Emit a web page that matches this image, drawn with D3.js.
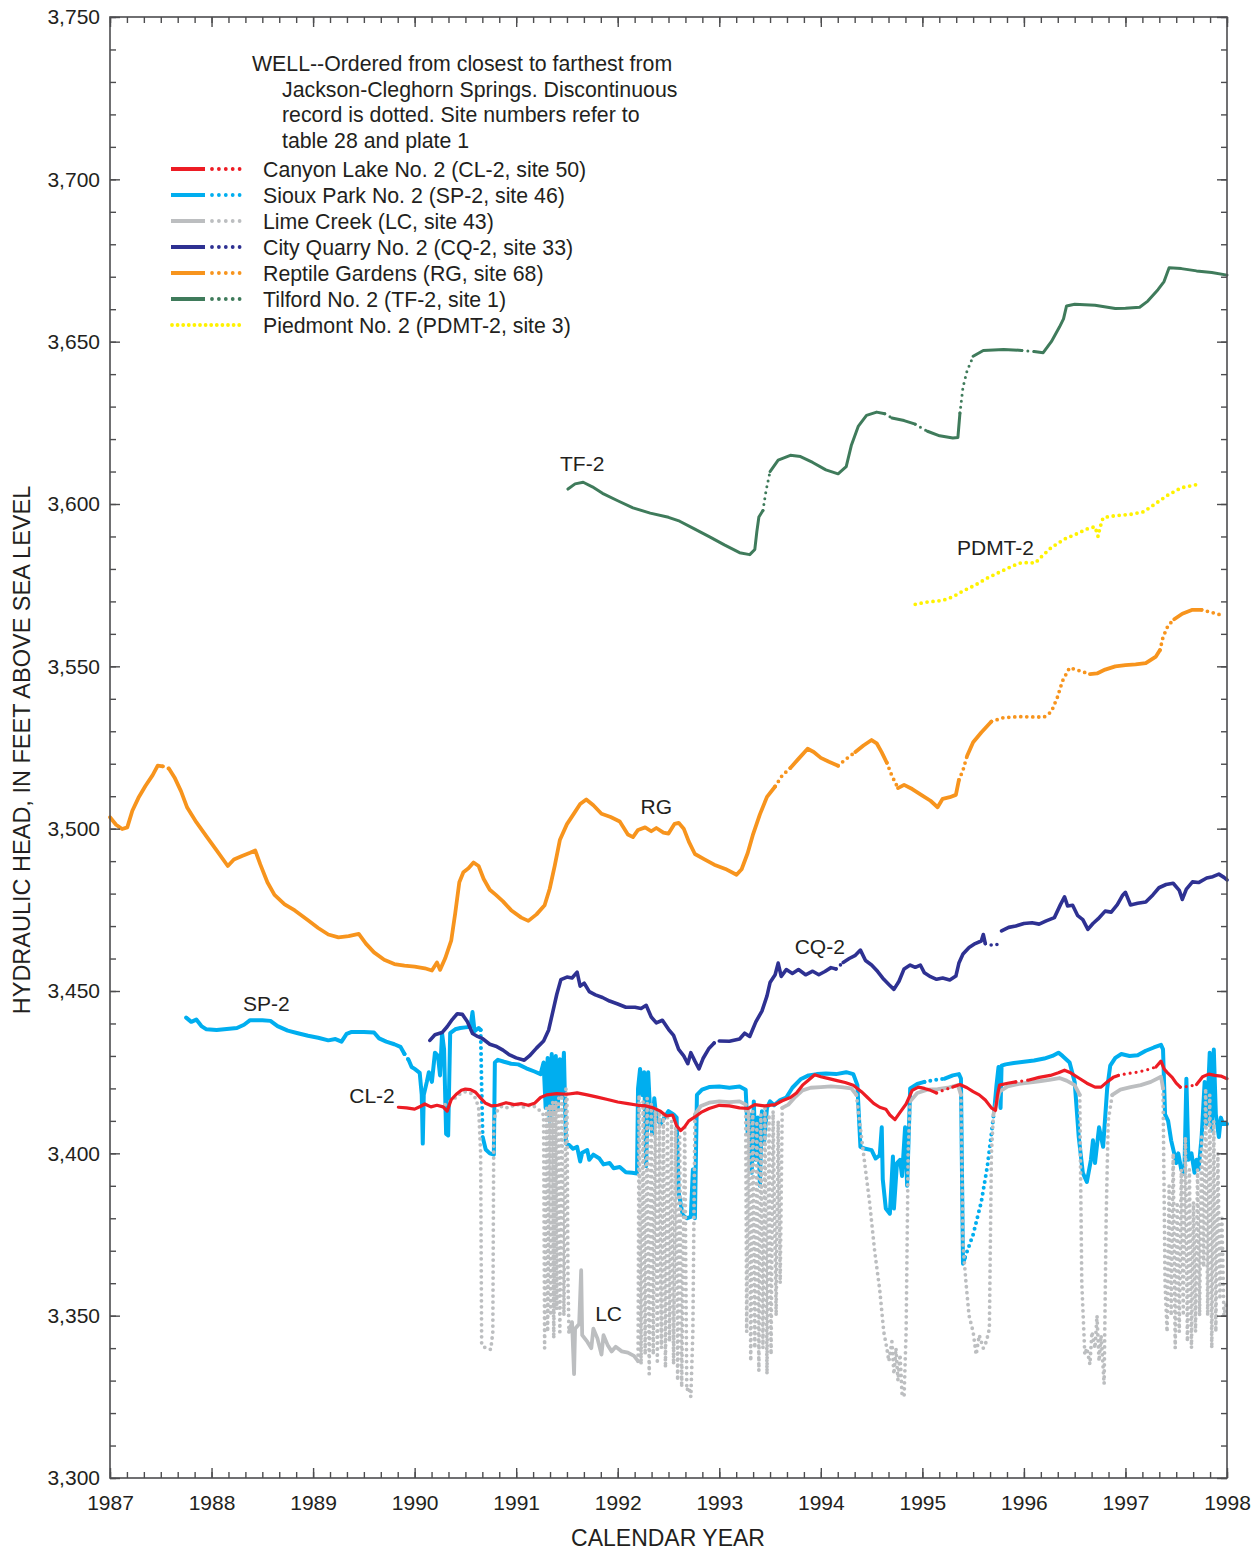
<!DOCTYPE html>
<html>
<head>
<meta charset="utf-8">
<script src="https://cdn.jsdelivr.net/npm/d3@7"></script>
<style>
  body { margin: 0; background: #fff; }
  svg { display: block; }
  text { font-family: "Liberation Sans", Arial, Helvetica, sans-serif; fill: #231f20; }
</style>
</head>
<body>
<svg id="chart" width="1260" height="1552"></svg>
<script>
// ---- Axis values ----
const yearTicks = [1987, 1988, 1989, 1990, 1991, 1992, 1993, 1994, 1995, 1996, 1997, 1998];
const headTicks = [3300, 3350, 3400, 3450, 3500, 3550, 3600, 3650, 3700, 3750];

// ---- Well records: segments of [year, head]; "s" = continuous, "d" = discontinuous (dotted) ----
const tf2 = [
  ["s", [[1991.51,3604.6],[1991.58,3606.2],[1991.66,3606.7],[1991.75,3605.3],[1991.85,3603.3],[1992.0,3601.0],[1992.15,3598.8],[1992.32,3597.2],[1992.5,3595.9],[1992.61,3594.7],[1992.75,3592.4],[1992.91,3589.8],[1993.05,3587.4],[1993.2,3585.0],[1993.3,3584.4],[1993.35,3586.0],[1993.37,3591.5],[1993.39,3596.0],[1993.43,3598.0]]],
  ["d", [[1993.43,3598.0],[1993.46,3604.0],[1993.5,3610.0]]],
  ["s", [[1993.5,3610.0],[1993.58,3613.5],[1993.7,3615.0],[1993.8,3614.6],[1993.92,3612.8],[1994.05,3610.5],[1994.17,3609.3],[1994.25,3611.5],[1994.3,3618.0],[1994.37,3624.0],[1994.45,3627.3],[1994.55,3628.3],[1994.63,3627.8]]],
  ["d", [[1994.63,3627.8],[1994.7,3626.5]]],
  ["s", [[1994.7,3626.5],[1994.82,3625.7],[1994.93,3624.6]]],
  ["d", [[1994.93,3624.6],[1995.05,3622.4]]],
  ["s", [[1995.05,3622.4],[1995.17,3621.0],[1995.3,3620.3],[1995.35,3620.5],[1995.37,3628.0]]],
  ["d", [[1995.37,3628.0],[1995.4,3636.0],[1995.44,3641.0],[1995.5,3645.5]]],
  ["s", [[1995.5,3645.5],[1995.6,3647.3],[1995.8,3647.6],[1995.98,3647.3]]],
  ["d", [[1995.98,3647.3],[1996.1,3647.0]]],
  ["s", [[1996.1,3647.0],[1996.19,3646.6],[1996.27,3650.0],[1996.35,3654.5],[1996.39,3657.0],[1996.42,3661.0],[1996.5,3661.5],[1996.7,3661.2],[1996.9,3660.2],[1997.0,3660.3],[1997.14,3660.6],[1997.22,3662.5],[1997.32,3666.0],[1997.38,3668.5],[1997.43,3672.8],[1997.55,3672.5],[1997.7,3671.8],[1997.85,3671.3],[1998.0,3670.5]]]
];

const pdmt2 = [
  ["d", [[1994.93,3569.1],[1995.05,3569.8],[1995.2,3570.3],[1995.3,3571.4],[1995.4,3573.2],[1995.52,3575.0],[1995.64,3577.2],[1995.76,3579.0],[1995.88,3580.8],[1995.96,3581.8],[1996.05,3582.0],[1996.11,3581.8],[1996.18,3584.0],[1996.27,3586.6],[1996.4,3589.2],[1996.52,3590.8],[1996.62,3592.3],[1996.7,3593.0],[1996.73,3590.0],[1996.75,3592.8],[1996.78,3595.8],[1996.9,3596.4],[1997.05,3596.8],[1997.18,3597.6],[1997.3,3600.2],[1997.42,3602.8],[1997.55,3605.0],[1997.69,3605.9]]]
];

const rg = [
  ["s", [[1987.0,3503.5],[1987.06,3501.2],[1987.12,3499.9],[1987.17,3500.4],[1987.22,3505.5],[1987.28,3509.5],[1987.35,3513.2],[1987.42,3516.5],[1987.47,3519.4],[1987.52,3519.2]]],
  ["d", [[1987.52,3519.2],[1987.58,3518.5]]],
  ["s", [[1987.58,3518.5],[1987.64,3515.5],[1987.7,3511.5],[1987.76,3506.5],[1987.85,3502.0],[1987.95,3497.6],[1988.05,3493.3],[1988.16,3488.5],[1988.22,3490.5],[1988.3,3491.6],[1988.38,3492.6],[1988.43,3493.3],[1988.48,3489.0],[1988.55,3483.5],[1988.62,3479.6],[1988.72,3476.7],[1988.82,3474.8],[1988.95,3471.8],[1989.05,3469.4],[1989.15,3467.4],[1989.25,3466.5],[1989.35,3466.9],[1989.45,3467.6],[1989.52,3464.6],[1989.6,3461.9],[1989.7,3459.6],[1989.8,3458.3],[1989.9,3457.8],[1990.0,3457.5],[1990.1,3457.0],[1990.17,3456.3],[1990.22,3458.8],[1990.25,3456.5],[1990.3,3460.0],[1990.36,3465.5],[1990.4,3474.0],[1990.44,3483.5],[1990.48,3486.6],[1990.53,3487.8],[1990.58,3489.6],[1990.63,3488.5],[1990.68,3484.5],[1990.74,3481.2],[1990.8,3479.6],[1990.87,3477.6],[1990.95,3474.9],[1991.05,3472.6],[1991.12,3471.6],[1991.2,3473.6],[1991.28,3476.4],[1991.33,3481.5],[1991.38,3488.6],[1991.43,3496.5],[1991.5,3501.4],[1991.57,3504.7],[1991.63,3507.6],[1991.69,3509.0],[1991.76,3507.2],[1991.84,3504.6],[1991.93,3503.6],[1992.02,3502.2],[1992.1,3498.2],[1992.15,3497.4],[1992.2,3499.6],[1992.27,3500.4],[1992.33,3499.2],[1992.38,3500.2],[1992.45,3498.8],[1992.5,3498.5],[1992.56,3501.5],[1992.6,3501.8],[1992.65,3500.0],[1992.7,3496.0],[1992.76,3492.2],[1992.85,3490.6],[1992.95,3488.9],[1993.06,3487.6],[1993.17,3485.8],[1993.22,3487.5],[1993.28,3492.5],[1993.33,3498.0],[1993.4,3504.4],[1993.47,3509.8],[1993.55,3513.0]]],
  ["d", [[1993.55,3513.0],[1993.62,3516.4],[1993.7,3518.7]]],
  ["s", [[1993.7,3518.7],[1993.78,3521.5],[1993.87,3524.6],[1993.93,3523.6],[1994.0,3521.8],[1994.08,3520.6],[1994.17,3519.4]]],
  ["d", [[1994.17,3519.4],[1994.25,3521.5],[1994.34,3523.6]]],
  ["s", [[1994.34,3523.6],[1994.42,3525.6],[1994.5,3527.3],[1994.55,3526.3],[1994.6,3523.5],[1994.65,3520.3]]],
  ["d", [[1994.65,3520.3],[1994.7,3516.3],[1994.76,3512.5]]],
  ["s", [[1994.76,3512.5],[1994.82,3513.5],[1994.9,3512.2],[1995.0,3510.2],[1995.08,3508.6],[1995.15,3506.6],[1995.2,3509.2],[1995.27,3509.7],[1995.33,3510.4],[1995.36,3515.0]]],
  ["d", [[1995.36,3515.0],[1995.4,3518.0],[1995.44,3522.4]]],
  ["s", [[1995.44,3522.4],[1995.5,3526.6],[1995.58,3529.6],[1995.68,3533.0]]],
  ["d", [[1995.68,3533.0],[1995.8,3534.2],[1995.95,3534.5],[1996.1,3534.4],[1996.2,3534.4],[1996.27,3536.0],[1996.33,3540.5],[1996.38,3545.5],[1996.45,3549.6],[1996.55,3548.6],[1996.65,3547.6]]],
  ["s", [[1996.65,3547.6],[1996.72,3547.8],[1996.8,3549.0],[1996.9,3550.0],[1997.0,3550.4],[1997.1,3550.6],[1997.2,3551.0],[1997.3,3553.0],[1997.34,3555.0]]],
  ["d", [[1997.34,3555.0],[1997.37,3559.0],[1997.42,3562.6],[1997.48,3564.5]]],
  ["s", [[1997.48,3564.5],[1997.56,3566.2],[1997.66,3567.4],[1997.75,3567.4]]],
  ["d", [[1997.75,3567.4],[1997.85,3566.6],[1997.93,3565.9]]]
];

const cq2 = [
  ["s", [[1990.15,3434.8],[1990.2,3436.5],[1990.27,3437.2],[1990.32,3439.0],[1990.37,3441.2],[1990.42,3443.0],[1990.47,3442.8],[1990.52,3440.5],[1990.57,3436.9],[1990.62,3436.0],[1990.67,3435.3],[1990.74,3433.6],[1990.8,3433.0],[1990.87,3431.8],[1990.93,3430.4],[1991.0,3429.4],[1991.08,3428.7],[1991.13,3430.0],[1991.2,3432.4],[1991.27,3434.6],[1991.32,3438.0],[1991.36,3443.5],[1991.4,3449.0],[1991.44,3453.5],[1991.5,3454.3],[1991.55,3454.0],[1991.6,3455.8],[1991.63,3451.5],[1991.67,3452.4],[1991.72,3449.8],[1991.78,3448.8],[1991.85,3448.0],[1991.92,3446.9],[1992.0,3446.0],[1992.08,3445.0],[1992.17,3445.0],[1992.23,3444.6],[1992.28,3445.6],[1992.33,3442.0],[1992.38,3440.2],[1992.44,3441.0],[1992.5,3438.2],[1992.55,3436.3],[1992.6,3432.0],[1992.65,3430.0],[1992.69,3427.6],[1992.72,3431.0],[1992.76,3428.4],[1992.8,3426.0],[1992.84,3429.2],[1992.9,3432.4],[1992.95,3434.0]]],
  ["d", [[1992.95,3434.0],[1993.0,3434.6]]],
  ["s", [[1993.0,3434.6],[1993.1,3434.5],[1993.2,3435.2],[1993.25,3437.0],[1993.3,3436.0],[1993.36,3440.5],[1993.42,3443.8],[1993.47,3448.5],[1993.5,3452.6],[1993.55,3455.0],[1993.58,3458.6],[1993.61,3454.5],[1993.66,3456.6],[1993.72,3455.4],[1993.78,3456.6],[1993.85,3455.0],[1993.92,3456.1],[1993.98,3455.0],[1994.04,3456.0],[1994.1,3457.2],[1994.15,3456.8]]],
  ["d", [[1994.15,3456.8],[1994.22,3458.8]]],
  ["s", [[1994.22,3458.8],[1994.28,3460.0],[1994.34,3461.0],[1994.39,3462.6],[1994.44,3459.4],[1994.5,3458.0],[1994.56,3456.0],[1994.62,3453.6],[1994.67,3452.0],[1994.72,3450.5],[1994.77,3453.0],[1994.82,3456.8],[1994.88,3458.0],[1994.93,3457.3],[1994.98,3458.0],[1995.02,3455.6],[1995.08,3454.4],[1995.14,3453.6],[1995.2,3454.0],[1995.27,3453.4],[1995.33,3454.6],[1995.36,3458.6],[1995.4,3461.4],[1995.46,3463.4],[1995.52,3464.6],[1995.58,3465.4],[1995.6,3467.4],[1995.62,3464.6]]],
  ["d", [[1995.62,3464.6],[1995.7,3464.0],[1995.76,3464.6]]],
  ["s", [[1995.78,3468.5],[1995.85,3469.6],[1995.92,3470.0],[1996.0,3470.8],[1996.08,3471.0],[1996.15,3470.6],[1996.22,3471.6],[1996.3,3472.6],[1996.36,3476.6],[1996.4,3479.0],[1996.43,3476.2],[1996.48,3476.4],[1996.53,3473.2],[1996.58,3472.0],[1996.63,3469.0],[1996.68,3470.8],[1996.73,3472.2],[1996.8,3474.6],[1996.86,3474.3],[1996.92,3476.6],[1996.97,3479.4],[1997.0,3480.4],[1997.05,3476.5],[1997.12,3477.0],[1997.2,3477.4],[1997.27,3479.6],[1997.33,3481.8],[1997.4,3482.8],[1997.47,3483.2],[1997.53,3481.0],[1997.56,3478.2],[1997.6,3481.4],[1997.66,3483.6],[1997.72,3483.4],[1997.8,3484.8],[1997.86,3485.2],[1997.92,3486.0],[1997.97,3485.0],[1998.0,3484.2]]]
];

const cl2 = [
  ["s", [[1989.84,3414.2],[1989.92,3414.0],[1990.0,3413.6],[1990.06,3414.5],[1990.1,3415.2],[1990.16,3414.3],[1990.22,3414.8],[1990.28,3414.3],[1990.32,3413.0],[1990.36,3416.5],[1990.41,3418.2],[1990.46,3419.4],[1990.5,3419.8],[1990.55,3419.6],[1990.6,3418.8],[1990.65,3417.0],[1990.7,3415.4],[1990.76,3414.6],[1990.82,3414.8],[1990.9,3415.6],[1990.98,3415.0],[1991.05,3415.3],[1991.12,3414.8],[1991.18,3415.4],[1991.24,3417.2],[1991.3,3418.0],[1991.4,3418.4],[1991.5,3418.2],[1991.6,3418.6],[1991.7,3418.0],[1991.8,3417.3],[1991.9,3416.6],[1992.0,3415.8],[1992.1,3415.3],[1992.2,3414.8],[1992.28,3414.6],[1992.35,3414.0],[1992.42,3413.0],[1992.48,3411.5],[1992.54,3411.8],[1992.58,3408.5],[1992.62,3407.0],[1992.66,3408.2],[1992.7,3410.0],[1992.76,3411.2],[1992.82,3412.6],[1992.9,3413.8],[1993.0,3414.8],[1993.1,3414.6],[1993.2,3414.0],[1993.28,3413.8],[1993.35,3415.0],[1993.45,3414.6],[1993.55,3415.0],[1993.62,3416.2],[1993.7,3417.2],[1993.76,3418.6],[1993.82,3421.0],[1993.88,3422.6],[1993.94,3424.2],[1994.0,3423.6],[1994.08,3423.0],[1994.16,3422.4],[1994.24,3421.8],[1994.32,3421.0],[1994.4,3419.0],[1994.46,3417.2],[1994.52,3415.4],[1994.58,3414.2],[1994.64,3413.6],[1994.68,3411.8],[1994.73,3410.4],[1994.78,3412.6],[1994.84,3415.2],[1994.9,3419.4],[1994.96,3420.4],[1995.02,3420.0],[1995.08,3419.4],[1995.14,3418.6]]],
  ["d", [[1995.14,3418.6],[1995.22,3419.6],[1995.3,3420.4]]],
  ["s", [[1995.3,3420.4],[1995.37,3421.2],[1995.44,3420.2],[1995.5,3419.0],[1995.56,3418.0],[1995.62,3416.4],[1995.68,3414.0],[1995.72,3413.2],[1995.74,3418.0],[1995.76,3421.0],[1995.84,3421.6],[1995.92,3422.0]]],
  ["d", [[1995.92,3422.0],[1996.05,3422.6]]],
  ["s", [[1996.05,3422.6],[1996.15,3423.4],[1996.26,3424.0],[1996.34,3424.8],[1996.4,3425.6],[1996.46,3424.8],[1996.54,3423.2],[1996.62,3421.6],[1996.7,3420.4],[1996.76,3420.4],[1996.82,3422.0],[1996.88,3423.4],[1996.93,3424.0]]],
  ["d", [[1996.93,3424.0],[1997.02,3424.6],[1997.12,3425.0],[1997.22,3425.8],[1997.3,3426.6]]],
  ["s", [[1997.3,3426.6],[1997.35,3428.4],[1997.38,3426.0],[1997.42,3424.6],[1997.46,3423.4],[1997.5,3421.6],[1997.54,3420.4]]],
  ["d", [[1997.54,3420.4],[1997.62,3420.6],[1997.7,3421.2]]],
  ["s", [[1997.7,3421.2],[1997.76,3423.6],[1997.82,3424.4],[1997.88,3424.0],[1997.94,3423.8],[1998.0,3423.0]]]
];

const sp2 = [
  ["s", [[1987.75,3441.8],[1987.8,3440.5],[1987.85,3441.2],[1987.9,3439.2],[1987.95,3438.2],[1988.05,3438.0],[1988.15,3438.3],[1988.25,3438.6],[1988.32,3439.6],[1988.38,3441.0],[1988.5,3441.0],[1988.58,3440.8],[1988.65,3439.2],[1988.75,3437.8],[1988.85,3437.0],[1988.95,3436.2],[1989.05,3435.6],[1989.15,3434.8],[1989.22,3435.2],[1989.28,3434.4],[1989.33,3436.8],[1989.38,3437.4],[1989.5,3437.4],[1989.6,3437.2],[1989.65,3435.4],[1989.72,3434.4],[1989.8,3433.6],[1989.86,3432.8],[1989.9,3430.6]]],
  ["d", [[1989.9,3430.6],[1989.94,3428.8]]],
  ["s", [[1989.94,3428.8],[1989.97,3426.6],[1990.0,3426.0],[1990.05,3424.8],[1990.07,3418.0],[1990.08,3403.0],[1990.09,3418.0],[1990.12,3422.0],[1990.14,3425.0],[1990.17,3422.0],[1990.2,3431.0],[1990.23,3430.0],[1990.25,3424.0],[1990.27,3437.0],[1990.29,3432.0],[1990.31,3406.0],[1990.33,3405.5],[1990.35,3437.0],[1990.4,3438.2],[1990.45,3438.6],[1990.5,3438.8],[1990.55,3439.0],[1990.57,3443.5],[1990.59,3437.6],[1990.63,3438.6],[1990.65,3438.0]]],
  ["d", [[1990.65,3438.0],[1990.66,3420.0],[1990.67,3405.0]]],
  ["s", [[1990.67,3405.0],[1990.7,3401.2],[1990.74,3400.0],[1990.78,3399.6],[1990.79,3428.0],[1990.82,3428.8],[1990.88,3428.2],[1990.95,3427.6],[1991.02,3427.4],[1991.1,3426.2],[1991.18,3425.2],[1991.24,3424.4],[1991.27,3428.0],[1991.29,3414.0],[1991.31,3429.4],[1991.33,3410.0],[1991.35,3430.6],[1991.37,3412.0],[1991.39,3430.0],[1991.41,3414.0],[1991.43,3429.0],[1991.45,3418.0],[1991.47,3431.0],[1991.49,3403.0],[1991.52,3402.6],[1991.56,3401.4],[1991.6,3402.0],[1991.63,3397.5],[1991.65,3400.2],[1991.7,3401.0],[1991.72,3398.0],[1991.76,3399.6],[1991.82,3398.4],[1991.86,3396.6],[1991.92,3397.0],[1991.96,3395.4],[1992.02,3395.8],[1992.08,3394.2],[1992.14,3394.0],[1992.19,3393.8],[1992.2,3420.0],[1992.22,3426.0],[1992.24,3418.0],[1992.26,3425.0],[1992.28,3396.0],[1992.3,3425.0],[1992.32,3412.0],[1992.34,3406.0],[1992.36,3417.0],[1992.38,3411.0],[1992.42,3409.0],[1992.46,3411.0],[1992.5,3413.0],[1992.55,3412.0],[1992.58,3411.0],[1992.6,3388.0],[1992.64,3381.0],[1992.68,3380.0],[1992.72,3380.4],[1992.74,3395.0],[1992.76,3380.0],[1992.78,3418.0],[1992.83,3419.6],[1992.9,3420.4],[1993.0,3420.6],[1993.1,3420.2],[1993.2,3420.6],[1993.26,3419.6],[1993.28,3406.0],[1993.3,3412.0],[1993.32,3394.0],[1993.34,3416.0],[1993.36,3398.0],[1993.38,3411.0],[1993.4,3390.0],[1993.42,3413.0],[1993.44,3403.0],[1993.47,3414.0],[1993.5,3416.0],[1993.54,3414.8],[1993.6,3416.4],[1993.66,3417.2],[1993.72,3420.2],[1993.8,3422.8],[1993.88,3424.0],[1993.96,3424.4],[1994.05,3424.6],[1994.15,3424.4],[1994.25,3425.0],[1994.32,3424.4],[1994.36,3421.0],[1994.39,3402.0],[1994.44,3401.4],[1994.5,3401.0],[1994.54,3398.4],[1994.58,3399.4],[1994.6,3408.0],[1994.61,3392.0],[1994.64,3383.0],[1994.68,3381.4],[1994.71,3399.0],[1994.72,3383.0],[1994.75,3397.0],[1994.78,3398.0],[1994.8,3393.0],[1994.83,3408.0],[1994.85,3390.0],[1994.88,3420.0],[1994.95,3421.4],[1995.02,3422.0]]],
  ["d", [[1995.02,3422.0],[1995.12,3422.6],[1995.22,3423.0]]],
  ["s", [[1995.22,3423.0],[1995.3,3424.0],[1995.36,3424.4],[1995.38,3423.0],[1995.4,3366.0],[1995.42,3368.0]]],
  ["d", [[1995.42,3368.0],[1995.5,3375.0],[1995.58,3385.0],[1995.64,3396.0],[1995.68,3406.0],[1995.71,3414.0]]],
  ["s", [[1995.71,3414.0],[1995.73,3421.0],[1995.75,3426.6],[1995.77,3414.0],[1995.78,3427.0],[1995.82,3427.4],[1995.9,3427.8],[1996.0,3428.2],[1996.1,3428.6],[1996.2,3429.2],[1996.28,3430.0],[1996.34,3431.0],[1996.38,3430.0],[1996.45,3428.0],[1996.5,3422.0],[1996.54,3405.0],[1996.58,3394.0],[1996.62,3391.2],[1996.66,3398.0],[1996.68,3404.0],[1996.7,3397.0],[1996.74,3408.0],[1996.78,3402.0],[1996.82,3420.0],[1996.85,3427.0],[1996.9,3429.4],[1996.96,3430.6],[1997.04,3430.0],[1997.12,3430.2],[1997.2,3431.6],[1997.28,3432.6],[1997.35,3433.4],[1997.37,3432.0],[1997.39,3412.0],[1997.42,3410.0],[1997.45,3404.0],[1997.48,3400.0],[1997.5,3397.0],[1997.52,3400.0],[1997.55,3395.0],[1997.58,3393.6],[1997.6,3423.0],[1997.62,3398.0],[1997.65,3400.0],[1997.68,3394.0],[1997.7,3398.0],[1997.72,3395.0],[1997.75,3405.0],[1997.78,3422.0],[1997.8,3409.0],[1997.83,3431.0],[1997.85,3407.0],[1997.87,3432.0],[1997.89,3412.0],[1997.92,3405.0],[1997.94,3411.0],[1997.96,3409.0],[1998.0,3409.0]]]
];

const lc = [
  ["d", [[1990.3,3415.0],[1990.38,3416.6],[1990.45,3418.4],[1990.5,3419.0],[1990.55,3418.6],[1990.6,3417.0],[1990.63,3414.0],[1990.65,3400.0],[1990.66,3341.0],[1990.7,3340.0],[1990.75,3339.6],[1990.77,3345.0],[1990.78,3410.0],[1990.8,3412.6],[1990.86,3414.6],[1990.92,3414.0],[1991.0,3415.2],[1991.08,3414.2],[1991.15,3415.0],[1991.22,3413.6],[1991.26,3412.0],
        [1991.27,3412.0],[1991.28,3340.0],[1991.3,3414.0],[1991.31,3345.0],[1991.33,3415.0],[1991.34,3350.0],[1991.36,3416.0],[1991.37,3343.0],[1991.39,3416.0],[1991.4,3352.0],[1991.42,3417.0],[1991.43,3345.0],[1991.45,3418.0],[1991.47,3350.0],[1991.49,3420.0],[1991.5,3418.0],[1991.51,3360.0],[1991.52,3345.0]]],
  ["s", [[1991.52,3345.0],[1991.55,3348.0],[1991.57,3332.0],[1991.58,3346.0],[1991.62,3347.4],[1991.64,3364.0],[1991.65,3344.0],[1991.7,3342.0],[1991.74,3340.0],[1991.76,3346.0],[1991.8,3343.0],[1991.84,3338.0],[1991.86,3344.0],[1991.9,3341.0],[1991.94,3339.0],[1991.98,3340.4],[1992.04,3339.0],[1992.1,3338.6],[1992.16,3337.6],[1992.2,3336.0]]],
  ["d", [[1992.2,3336.0],[1992.21,3418.0],[1992.23,3335.0],[1992.25,3416.0],[1992.27,3338.0],[1992.29,3417.0],[1992.31,3332.0],[1992.33,3415.0],[1992.35,3338.0],[1992.37,3414.0],[1992.39,3336.0],[1992.41,3413.0],[1992.43,3340.0],[1992.45,3412.0],[1992.47,3334.0],[1992.49,3411.0],[1992.51,3342.0],[1992.53,3410.0],[1992.55,3335.0],[1992.57,3408.0],[1992.59,3330.0],[1992.61,3405.0],[1992.63,3328.0],[1992.66,3408.0],[1992.68,3327.0],[1992.7,3328.0],[1992.72,3325.0],[1992.74,3345.0],[1992.76,3412.0]]],
  ["s", [[1992.76,3412.0],[1992.82,3414.6],[1992.9,3415.6],[1993.0,3416.0],[1993.1,3415.8],[1993.2,3416.0],[1993.26,3415.0]]],
  ["d", [[1993.26,3415.0],[1993.27,3345.0],[1993.29,3414.0],[1993.31,3336.0],[1993.33,3413.0],[1993.35,3340.0],[1993.37,3410.0],[1993.39,3333.0],[1993.41,3412.0],[1993.43,3340.0],[1993.45,3414.0],[1993.47,3332.0],[1993.49,3412.0],[1993.51,3338.0],[1993.53,3413.0],[1993.56,3350.0],[1993.58,3410.0],[1993.6,3360.0],[1993.62,3414.0]]],
  ["s", [[1993.62,3414.0],[1993.68,3415.0],[1993.75,3417.4],[1993.82,3419.4],[1993.9,3420.2],[1994.0,3420.4],[1994.1,3420.6],[1994.2,3420.4],[1994.3,3420.0],[1994.35,3418.0]]],
  ["d", [[1994.35,3418.0],[1994.42,3400.0],[1994.48,3385.0],[1994.53,3370.0],[1994.58,3358.0],[1994.62,3345.0],[1994.65,3340.0],[1994.67,3336.0],[1994.7,3342.0],[1994.72,3332.0],[1994.74,3340.0],[1994.76,3330.0],[1994.78,3338.0],[1994.8,3326.0],[1994.82,3325.0],[1994.84,3345.0],[1994.86,3400.0],[1994.88,3416.0]]],
  ["s", [[1994.88,3416.0],[1994.95,3418.6],[1995.05,3419.6],[1995.15,3419.8],[1995.25,3420.2],[1995.35,3421.0],[1995.38,3418.0]]],
  ["d", [[1995.38,3418.0],[1995.4,3372.0],[1995.43,3360.0],[1995.46,3350.0],[1995.5,3345.0],[1995.53,3338.0],[1995.56,3344.0],[1995.6,3340.0],[1995.63,3342.0],[1995.66,3346.0],[1995.68,3400.0],[1995.7,3412.0]]],
  ["s", [[1995.7,3412.0],[1995.76,3419.0],[1995.84,3420.6],[1995.95,3421.4],[1996.05,3421.8],[1996.15,3422.2],[1996.25,3422.6],[1996.35,3423.2],[1996.42,3422.4],[1996.5,3421.0],[1996.55,3418.0]]],
  ["d", [[1996.55,3418.0],[1996.57,3360.0],[1996.6,3338.0],[1996.62,3340.0],[1996.65,3335.0],[1996.67,3345.0],[1996.7,3340.0],[1996.72,3350.0],[1996.74,3336.0],[1996.76,3344.0],[1996.79,3329.0],[1996.81,3380.0],[1996.83,3410.0],[1996.87,3418.0]]],
  ["s", [[1996.87,3418.0],[1996.95,3419.6],[1997.05,3420.4],[1997.15,3421.0],[1997.25,3422.0],[1997.35,3423.6],[1997.37,3420.0]]],
  ["d", [[1997.37,3420.0],[1997.39,3360.0],[1997.41,3345.0],[1997.43,3390.0],[1997.45,3350.0],[1997.47,3400.0],[1997.49,3340.0],[1997.51,3385.0],[1997.53,3345.0],[1997.55,3395.0],[1997.57,3350.0],[1997.59,3405.0],[1997.61,3342.0],[1997.63,3395.0],[1997.65,3340.0],[1997.67,3385.0],[1997.69,3345.0],[1997.71,3395.0],[1997.73,3350.0],[1997.75,3405.0],[1997.77,3365.0],[1997.79,3420.0],[1997.81,3350.0],[1997.83,3418.0],[1997.85,3340.0],[1997.87,3410.0],[1997.89,3345.0],[1997.91,3400.0],[1997.93,3355.0],[1997.95,3380.0],[1997.97,3350.0],[1998.0,3355.0]]]
];

// ---- Legend entries ----
const legendTitle = [
  "WELL--Ordered from closest to farthest from",
  "Jackson-Cleghorn Springs. Discontinuous",
  "record is dotted. Site numbers refer to",
  "table 28 and plate 1"
];
const legendNames = [
  "Canyon Lake No. 2 (CL-2, site 50)",
  "Sioux Park No. 2 (SP-2, site 46)",
  "Lime Creek (LC, site 43)",
  "City Quarry No. 2 (CQ-2, site 33)",
  "Reptile Gardens (RG, site 68)",
  "Tilford No. 2 (TF-2, site 1)",
  "Piedmont No. 2 (PDMT-2, site 3)"
];
const legendColors = ["#ed1c24", "#00aeef", "#bcbec0", "#2e3192", "#f7941d", "#3f7b5b", "#fff200"];

// ---- Curve labels: [text, year, head] at the label centre ----
const curveLabels = [
  ["TF-2", 1991.65, 3612.6], ["PDMT-2", 1995.72, 3586.5], ["RG", 1992.38, 3506.7],
  ["CQ-2", 1993.99, 3463.6], ["SP-2", 1988.54, 3446.0], ["CL-2", 1989.58, 3417.7], ["LC", 1991.91, 3350.8]
];

// ---- Chart ----
const svg = d3.select("#chart");
const L = 110, R = 1227, T = 17, B = 1478;
const x = d3.scaleLinear().domain([1987, 1998]).range([L, R]);
const y = d3.scaleLinear().domain([3300, 3750]).range([B, T]);
const axisColor = "#4d4d4f";

// series, bottom to top
const series = [
  { data: sp2,  color: "#00aeef", w: 4.0 },
  { data: lc,   color: "#bcbec0", w: 3.8 },
  { data: cq2,  color: "#2e3192", w: 3.6 },
  { data: cl2,  color: "#ed1c24", w: 3.2 },
  { data: rg,   color: "#f7941d", w: 3.8 },
  { data: tf2,  color: "#3f7b5b", w: 3.0 },
  { data: pdmt2,color: "#fff200", w: 3.8 }
];

const line = d3.line().x(d => x(d[0])).y(d => y(d[1]));
const plot = svg.append("g");
series.forEach(s => {
  s.data.forEach(([kind, pts]) => {
    const p = plot.append("path")
      .attr("d", line(pts))
      .attr("fill", "none")
      .attr("stroke", s.color)
      .attr("stroke-width", s.w)
      .attr("stroke-linejoin", "round")
      .attr("stroke-linecap", "round");
    if (kind === "d") p.attr("stroke-dasharray", "0 6");
  });
});

// ---- Axes (ticks point inward on all four sides) ----
const fmtComma = d3.format(",");
const minorYears = d3.range(0, 67).map(k => 1987 + k / 6);
const minorHeads = d3.range(3300, 3751, 10);

function styleAxis(g) {
  g.select(".domain").remove();
  g.selectAll(".tick line").attr("stroke", axisColor).attr("stroke-width", 1.4);
  g.selectAll("text").style("font-size", "21px").attr("fill", "#231f20")
    .style("font-family", '"Liberation Sans", Arial, sans-serif');
}

svg.append("g").attr("transform", `translate(0,${B})`)
  .call(d3.axisBottom(x).tickValues(minorYears).tickSize(-6).tickFormat(""))
  .call(styleAxis);
svg.append("g").attr("transform", `translate(0,${B})`)
  .call(d3.axisBottom(x).tickValues(yearTicks).tickSize(-10).tickPadding(17).tickFormat(d3.format("d")))
  .call(styleAxis);
svg.append("g").attr("transform", `translate(0,${T})`)
  .call(d3.axisTop(x).tickValues(minorYears).tickSize(-6).tickFormat(""))
  .call(styleAxis);
svg.append("g").attr("transform", `translate(0,${T})`)
  .call(d3.axisTop(x).tickValues(yearTicks).tickSize(-10).tickFormat(""))
  .call(styleAxis);

svg.append("g").attr("transform", `translate(${L},0)`)
  .call(d3.axisLeft(y).tickValues(minorHeads).tickSize(-6).tickFormat(""))
  .call(styleAxis);
svg.append("g").attr("transform", `translate(${L},0)`)
  .call(d3.axisLeft(y).tickValues(headTicks).tickSize(-10).tickPadding(10).tickFormat(fmtComma))
  .call(styleAxis);
svg.append("g").attr("transform", `translate(${R},0)`)
  .call(d3.axisRight(y).tickValues(minorHeads).tickSize(-6).tickFormat(""))
  .call(styleAxis);
svg.append("g").attr("transform", `translate(${R},0)`)
  .call(d3.axisRight(y).tickValues(headTicks).tickSize(-10).tickFormat(""))
  .call(styleAxis);

svg.append("rect")
  .attr("x", L).attr("y", T).attr("width", R - L).attr("height", B - T)
  .attr("fill", "none").attr("stroke", axisColor).attr("stroke-width", 1.6);

// ---- Axis titles ----
svg.append("text")
  .attr("x", 668).attr("y", 1546)
  .attr("text-anchor", "middle").style("font-size", "23px")
  .text("CALENDAR YEAR");
svg.append("text")
  .attr("transform", "translate(30,750) rotate(-90)")
  .attr("text-anchor", "middle").style("font-size", "23.5px")
  .text("HYDRAULIC HEAD, IN FEET ABOVE SEA LEVEL");

// ---- Legend ----
const legend = svg.append("g");
legendTitle.forEach((t, i) => {
  legend.append("text")
    .attr("x", i === 0 ? 252 : 282)
    .attr("y", 71 + i * 25.5)
    .style("font-size", "21.3px")
    .text(t);
});
legendNames.forEach((name, i) => {
  const cy = 169 + i * 26;
  const c = legendColors[i];
  if (i < legendNames.length - 1) {
    legend.append("line").attr("x1", 171).attr("x2", 205).attr("y1", cy).attr("y2", cy)
      .attr("stroke", c).attr("stroke-width", 4);
    legend.append("line").attr("x1", 212).attr("x2", 240).attr("y1", cy).attr("y2", cy)
      .attr("stroke", c).attr("stroke-width", 3.8).attr("stroke-linecap", "round")
      .attr("stroke-dasharray", "0 6.9");
  } else {
    legend.append("line").attr("x1", 172).attr("x2", 240).attr("y1", cy).attr("y2", cy)
      .attr("stroke", c).attr("stroke-width", 3.8).attr("stroke-linecap", "round")
      .attr("stroke-dasharray", "0 5.6");
  }
  legend.append("text").attr("x", 263).attr("y", cy + 7.5)
    .style("font-size", "21.3px").text(name);
});

// ---- Curve labels ----
svg.append("g").selectAll("text").data(curveLabels).join("text")
  .attr("x", d => x(d[1]))
  .attr("y", d => y(d[2]) + 7.5)
  .attr("text-anchor", "middle")
  .style("font-size", "21px")
  .text(d => d[0]);
</script>
</body>
</html>
